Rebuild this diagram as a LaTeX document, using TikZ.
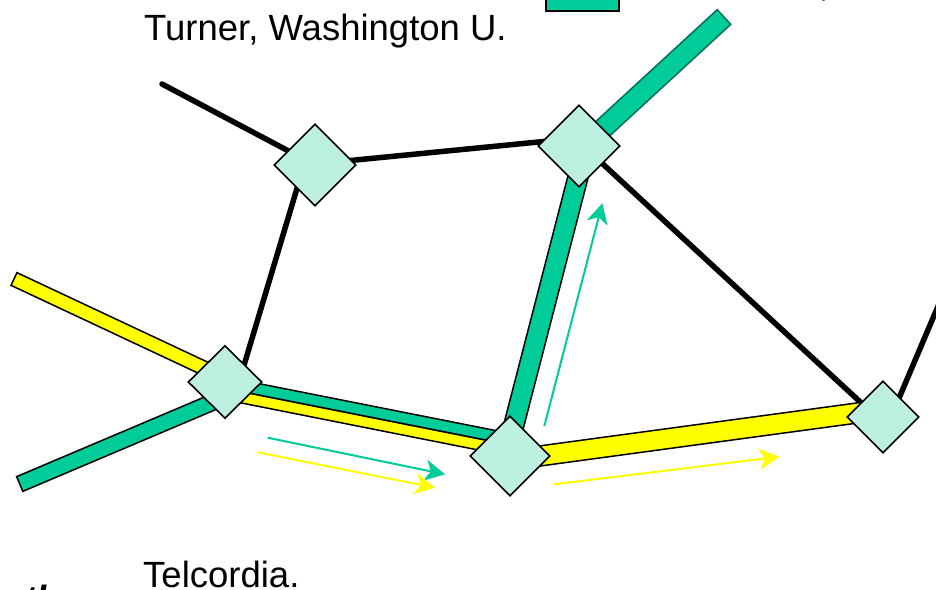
\documentclass[tikz,border=0pt]{standalone}
\usepackage{fontspec}
\setmainfont{Liberation Sans}
\usetikzlibrary{calc,shapes.geometric,arrows.meta}
\definecolor{tealbar}{RGB}{0,204,153}
\definecolor{nodefill}{RGB}{190,240,226}
\definecolor{yel}{RGB}{255,255,0}
\definecolor{darkteal}{RGB}{0,110,96}
\pgfdeclarelayer{bg}
\pgfsetlayers{bg,main}
\newcommand{\mybar}[4]{%
  \filldraw[#1] ($(#2)!#4!90:(#3)$) -- ($(#3)!#4!-90:(#2)$) -- ($(#3)!#4!90:(#2)$) -- ($(#2)!#4!-90:(#3)$) -- cycle;}
\tikzset{
  router/.style={diamond, aspect=1, draw=black, line width=1.6pt, fill=nodefill, inner sep=0pt},
  link/.style={line width=5.5pt, draw=black},
  greenbar/.style={fill=tealbar, draw=black, line width=1.5pt, line join=miter},
  yellowbar/.style={fill=yel, draw=black, line width=1.5pt, line join=miter},
  flowtip/.style={-{Stealth[length=20pt,width=21pt,inset=5.5pt]}},
  greenflow/.style={flowtip, draw=tealbar, line width=2pt},
  yellowflow/.style={flowtip, draw=yel, line width=2pt},
  label/.style={anchor=base west, inner sep=0pt, font=\fontsize{36.5}{44}\selectfont}
}
\begin{document}
\begin{tikzpicture}[x=1pt,y=-1pt]
\useasboundingbox (0,0) rectangle (936,589);
\clip (0,0) rectangle (936,589);

% texts
\node[label] (t1) at (144,40) {Turner, Washington U.};
\node[label] (t2) at (143,587) {Telcordia.};
\node[label, font=\fontsize{36.5}{44}\selectfont\bfseries\itshape] (t3) at (24,611) {th};
\node[label] (t4) at (819,-4) {,};

% legend swatch (cut at top)
\node[draw=black, line width=1.5pt, fill=tealbar, minimum width=73pt, minimum height=20pt, inner sep=0pt] (sw) at (582.5,1) {};

% routers
\node[router, minimum width=82pt, minimum height=82pt] (A) at (315,165) {};
\node[router, minimum width=82pt, minimum height=82pt] (B) at (579,146) {};
\node[router, minimum width=74pt, minimum height=73pt] (C) at (225,382) {};
\node[router, minimum width=80pt, minimum height=80pt] (D) at (510,456) {};
\node[router, minimum width=72pt, minimum height=72pt] (E) at (883,417) {};

% free ends and offsets
\coordinate (stubA) at (162,84);
\coordinate (stubE) at (950,278);
\coordinate (Eo) at (891,417);
\coordinate (Ao1) at (315,164);
\coordinate (Bo1) at (579,138);
\coordinate (Ao2) at (304,165);
\coordinate (Co2) at (239,382);
\coordinate (Bo3) at (579,142);
\coordinate (Eo3) at (883,423);
\coordinate (endTR) at (724,17);
\coordinate (Btr) at (585,145);
\coordinate (Bd) at (586,146);
\coordinate (Db) at (510,440);
\coordinate (endY) at (14,279);
\coordinate (Cy) at (225,378);
\coordinate (endG) at (19.7,484);
\coordinate (Cg) at (225,397);
\coordinate (Cg2) at (222,382);
\coordinate (Dg2) at (512,439.5);
\coordinate (Cy2) at (220,393);
\coordinate (Dy2) at (512,451);
\coordinate (Dy) at (510,460);
\coordinate (Ey) at (883,409.5);

\begin{pgfonlayer}{bg}
  % black links
  \draw[link, line cap=round] (stubA) -- (A.center);
  \draw[link] (Ao1) -- (Bo1);
  \draw[link] (Ao2) -- (Co2);
  \draw[link] (Bo3) -- (Eo3);
  \draw[link] (Eo) -- (stubE);
  % thick light paths
  \mybar{yellowbar}{endY}{Cy}{7pt}
  \mybar{greenbar}{endG}{Cg}{8pt}
  \mybar{yellowbar}{Dy}{Ey}{10pt}
  \mybar{yellowbar}{Cy2}{Dy2}{5.6pt}
  \mybar{greenbar}{Cg2}{Dg2}{5.6pt}
  \mybar{greenbar}{Db}{Bd}{10pt}
  \mybar{greenbar, draw=darkteal}{Btr}{endTR}{10pt}
\end{pgfonlayer}

% flow arrows
\coordinate (g1s) at (267.7,437.7);
\coordinate (g1e) at (445,474.3);
\coordinate (y1s) at (257.7,452.3);
\coordinate (y1e) at (435,487.7);
\coordinate (y2s) at (554,484.3);
\coordinate (y2e) at (779.3,456.7);
\coordinate (g2s) at (544.3,426);
\coordinate (g2e) at (602.3,203.3);
\draw[greenflow] (g1s) -- (g1e);
\draw[yellowflow] (y1s) -- (y1e);
\draw[yellowflow] (y2s) -- (y2e);
\draw[greenflow] (g2s) -- (g2e);
\end{tikzpicture}
\end{document}
